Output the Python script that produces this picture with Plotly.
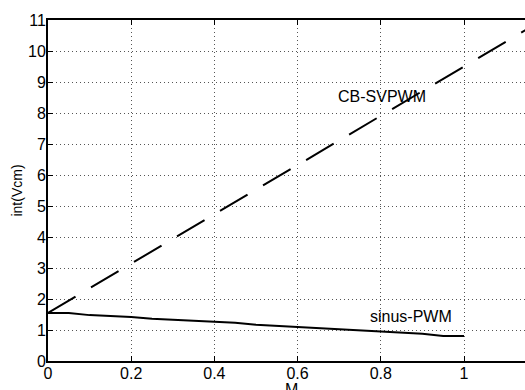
import plotly.graph_objects as go

# Modulation index and integrated common-mode voltage for the two schemes
m_svpwm = [0.0, 0.1, 0.2, 0.3, 0.4, 0.5, 0.6, 0.7, 0.8, 0.9, 1.0, 1.1, 1.2]
v_svpwm = [1.55, 2.35, 3.15, 3.94, 4.73, 5.53, 6.32, 7.12, 7.91, 8.71, 9.50, 10.30, 11.09]

m_sinus = [0.0, 0.05, 0.1, 0.2, 0.25, 0.3, 0.4, 0.45, 0.5, 0.6, 0.7, 0.8, 0.9, 0.95, 1.0]
v_sinus = [1.55, 1.55, 1.48, 1.42, 1.36, 1.33, 1.25, 1.23, 1.17, 1.10, 1.03, 0.95, 0.88, 0.81, 0.81]

x_ticks = [0, 0.2, 0.4, 0.6, 0.8, 1.0]
x_tick_text = ["0", "0.2", "0.4", "0.6", "0.8", "1"]
y_ticks = [0, 1, 2, 3, 4, 5, 6, 7, 8, 9, 10, 11]

FONT = "Liberation Sans, Arial, sans-serif"
X_MAX = 477 / 416

fig = go.Figure()
fig.add_trace(go.Scatter(
    x=m_svpwm, y=v_svpwm, mode="lines",
    line=dict(color="black", width=2, dash="32px,18px"),
    showlegend=False,
))
fig.add_trace(go.Scatter(
    x=m_sinus, y=v_sinus, mode="lines",
    line=dict(color="black", width=2),
    showlegend=False,
))

fig.add_annotation(x=0.803, y=8.53, text="CB-SVPWM", showarrow=False,
                   font=dict(family=FONT, size=16, color="black"))
fig.add_annotation(x=0.873, y=1.44, text="sinus-PWM", showarrow=False,
                   font=dict(family=FONT, size=16, color="black"))
fig.add_annotation(xref="paper", yref="paper", x=(291 - 48) / 477, y=-0.052,
                   xanchor="center", yanchor="top", text="M", showarrow=False,
                   font=dict(family=FONT, size=16, color="black"))

grid_common = dict(
    showgrid=True, gridcolor="#555555", griddash="1px,3px", gridwidth=1,
    zeroline=False,
    ticks="inside", ticklen=5, tickcolor="black", tickwidth=1,
    tickfont=dict(family=FONT, size=16, color="black"),
)

fig.update_layout(
    width=525, height=390,
    margin=dict(l=48, r=0, t=20, b=29),
    paper_bgcolor="white", plot_bgcolor="white",
    xaxis=dict(range=[0, X_MAX], tickvals=x_ticks, ticktext=x_tick_text,
               showline=True, linecolor="black", linewidth=2, mirror=False,
               ticklabelstandoff=-3, **grid_common),
    # top frame edge with its inward ticks
    xaxis2=dict(overlaying="x", matches="x", side="top", range=[0, X_MAX],
                tickvals=x_ticks, showticklabels=False, showgrid=False,
                showline=True, linecolor="black", linewidth=2,
                ticks="inside", ticklen=5, tickcolor="black", zeroline=False),
    yaxis=dict(range=[0, 11], tickvals=y_ticks,
               showline=True, linecolor="black", linewidth=2, mirror=False,
               ticklabelstandoff=-3,
               title=dict(text="int(Vcm)", font=dict(family=FONT, size=14, color="black"),
                          standoff=2),
               **grid_common),
)
# invisible trace that binds the top axis
fig.add_trace(go.Scatter(x=[0], y=[0], xaxis="x2", mode="markers",
                         marker=dict(opacity=0), showlegend=False, hoverinfo="skip"))

fig.write_html("out.html")
